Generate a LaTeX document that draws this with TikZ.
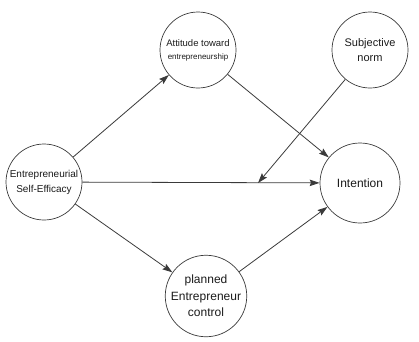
\documentclass[tikz,border=0pt]{standalone}
\usepackage{fontspec}
\setmainfont{Liberation Sans}
\usetikzlibrary{arrows.meta}
\definecolor{linec}{HTML}{3A3A3A}
\definecolor{txt}{HTML}{1A1A1A}
\tikzset{
  var/.style={circle, draw=linec, line width=0.7pt, minimum size=76pt, inner sep=0pt, align=center, text=txt, font=\fontsize{11}{14}\selectfont},
  conn/.style={draw=linec, line width=0.8pt, -{Stealth[length=10pt,width=6.5pt,inset=1.5pt]}}
}
\begin{document}
\begin{tikzpicture}[x=1pt,y=-1pt]
\useasboundingbox (0,0) rectangle (419,341);
\node[var, font=\fontsize{10}{15}\selectfont] (ese) at (44,182) {Entrepreneurial\\Self-Efficacy};
\node[var] (att) at (198,50) {{\fontsize{9.5}{12}\selectfont Attitude toward}\\[-1pt]{\fontsize{8}{9.5}\selectfont entrepreneurship}};
\node[var, font=\fontsize{11}{15}\selectfont] (sn) at (370,50) {Subjective\\norm};
\node[var, minimum size=80pt, font=\fontsize{12}{16}\selectfont] (int) at (360,183) {Intention};
\node[var, minimum size=80pt, font=\fontsize{12}{16.5}\selectfont] (pec) at (206,296) {planned\\Entrepreneur\\control};
\coordinate (mid) at (258,183);
\draw[conn] (ese) -- (att);
\draw[conn] (ese) -- (int);
\draw[conn] (ese) -- (pec);
\draw[conn] (att) -- (int);
\draw[conn] (pec) -- (int);
\draw[conn] (sn) -- (mid);
\end{tikzpicture}
\end{document}
